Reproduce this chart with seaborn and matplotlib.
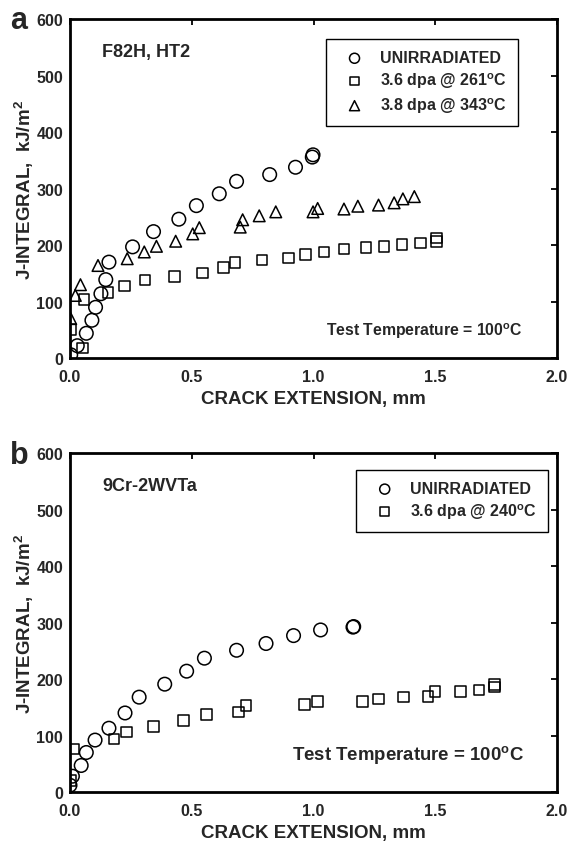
import numpy as np
import pandas as pd
import matplotlib
matplotlib.use("Agg")
import matplotlib.pyplot as plt
import seaborn as sns

# Panel a : F82H, HT2
a_unirr_x = [0.003, 0.03, 0.067, 0.09, 0.105, 0.127, 0.147, 0.16, 0.257, 0.343, 0.447,
             0.519, 0.613, 0.684, 0.82, 0.926, 0.995, 0.998]
a_unirr_y = [6, 22, 44, 67, 90, 114, 139, 170, 197, 224, 246,
             270, 291, 313, 325, 338, 356, 360]
a_261_x = [0.003, 0.051, 0.058, 0.156, 0.223, 0.308, 0.428, 0.545, 0.631, 0.678, 0.788,
           0.897, 0.968, 1.043, 1.125, 1.216, 1.289, 1.364, 1.439, 1.506, 1.506]
a_261_y = [51, 18, 104, 116, 128, 138, 145, 151, 160, 169, 174,
           177, 184, 188, 193, 196, 198, 201, 204, 207, 213]
a_343_x = [0.003, 0.022, 0.043, 0.115, 0.235, 0.305, 0.355, 0.434, 0.504, 0.531, 0.699,
           0.709, 0.777, 0.845, 0.998, 1.017, 1.125, 1.182, 1.267, 1.331, 1.367, 1.414]
a_343_y = [70, 111, 130, 164, 176, 188, 198, 207, 220, 231, 232,
           245, 252, 259, 259, 265, 264, 269, 271, 275, 282, 286]

# Panel b : 9Cr-2WVTa
b_unirr_x = [0.0, 0.01, 0.046, 0.067, 0.103, 0.16, 0.226, 0.284, 0.389, 0.479, 0.552,
             0.684, 0.805, 0.918, 1.029, 1.162, 1.165]
b_unirr_y = [12, 28, 47, 70, 92, 113, 140, 168, 191, 214, 237,
             251, 263, 277, 287, 292, 293]
b_240_x = [0.003, 0.016, 0.18, 0.233, 0.344, 0.467, 0.56, 0.691, 0.722, 0.962, 1.017,
           1.201, 1.267, 1.369, 1.47, 1.498, 1.603, 1.68, 1.742, 1.742]
b_240_y = [20, 76, 94, 106, 116, 127, 137, 142, 153, 155, 160,
           160, 165, 168, 169, 178, 178, 181, 186, 190]

sns.set_theme(style="white")
plt.rcParams['font.family'] = ['Liberation Sans', 'DejaVu Sans']
plt.rcParams['font.weight'] = 'bold'
plt.rcParams['axes.labelweight'] = 'bold'
plt.rcParams['mathtext.fontset'] = 'custom'
plt.rcParams['mathtext.rm'] = 'Liberation Sans:bold'
plt.rcParams['mathtext.it'] = 'Liberation Sans:bold'
plt.rcParams['mathtext.bf'] = 'Liberation Sans:bold'

tailles = {'o': 95, 's': 58, '^': 70}
tailles_legende = {'o': 52, 's': 40, '^': 52}


def tracer_panneau(ax, series, materiau, anchor):
    for x, y, marq, nom in series:
        df = pd.DataFrame({'x': x, 'y': y})
        sns.scatterplot(data=df, x='x', y='y', marker=marq, s=tailles[marq],
                        facecolor='none', edgecolor='black', linewidth=1.1,
                        label=nom, ax=ax)
    ax.set_xlim(0, 2.0)
    ax.set_ylim(0, 600)
    ax.set_xticks([0.0, 0.5, 1.0, 1.5, 2.0])
    ax.set_xticklabels(['0.0', '0.5', '1.0', '1.5', '2.0'])
    ax.set_yticks([0, 100, 200, 300, 400, 500, 600])
    ax.tick_params(direction='in', top=True, right=True, length=4, width=1.3,
                   labelsize=11.5, color='black')
    ax.tick_params(axis='x', pad=8)
    ax.tick_params(axis='y', pad=5)
    for sp in ax.spines.values():
        sp.set_linewidth(2)
        sp.set_color('black')
    ax.set_xlabel('CRACK EXTENSION, mm', fontsize=13.5, labelpad=4)
    ax.set_ylabel(r'J-INTEGRAL,  kJ/m$^2$', fontsize=13.5, labelpad=0)
    ax.text(0.066, 0.905, materiau, transform=ax.transAxes, fontsize=13,
            fontweight='bold', va='center', ha='left')
    leg = ax.legend(loc='upper right', bbox_to_anchor=anchor, fontsize=11.5,
                    frameon=True, fancybox=False, framealpha=1, edgecolor='black',
                    handletextpad=0.5, borderpad=0.7, labelspacing=0.32,
                    handlelength=2.2, borderaxespad=0)
    leg.get_frame().set_linewidth(1.0)
    for h, (_, _, marq, _) in zip(leg.legend_handles, series):
        h.set_sizes([tailles_legende[marq]])


fig = plt.figure(figsize=(5.69, 8.45), dpi=100)
ax_a = fig.add_axes([0.123, 0.575, 0.856, 0.401])
ax_b = fig.add_axes([0.123, 0.0615, 0.856, 0.401])

tracer_panneau(ax_a, [
    (a_unirr_x, a_unirr_y, 'o', 'UNIRRADIATED'),
    (a_261_x, a_261_y, 's', r'3.6 dpa @ 261$^{o}$C'),
    (a_343_x, a_343_y, '^', r'3.8 dpa @ 343$^{o}$C'),
], 'F82H, HT2', (0.92, 0.941))
ax_a.text(0.93, 0.083, r'Test Temperature = 100$^{o}$C', transform=ax_a.transAxes,
          fontsize=11.3, ha='right', va='center')

tracer_panneau(ax_b, [
    (b_unirr_x, b_unirr_y, 'o', 'UNIRRADIATED'),
    (b_240_x, b_240_y, 's', r'3.6 dpa @ 240$^{o}$C'),
], '9Cr-2WVTa', (0.982, 0.95))
ax_b.text(0.932, 0.112, r'Test Temperature = 100$^{o}$C', transform=ax_b.transAxes,
          fontsize=13.4, ha='right', va='center')

fig.text(19 / 569, 1 - 21 / 845, 'a', fontsize=22, fontweight='bold', ha='center', va='center')
fig.text(19 / 569, 1 - 456 / 845, 'b', fontsize=22, fontweight='bold', ha='center', va='center')

fig.savefig('out.png', dpi=100)
